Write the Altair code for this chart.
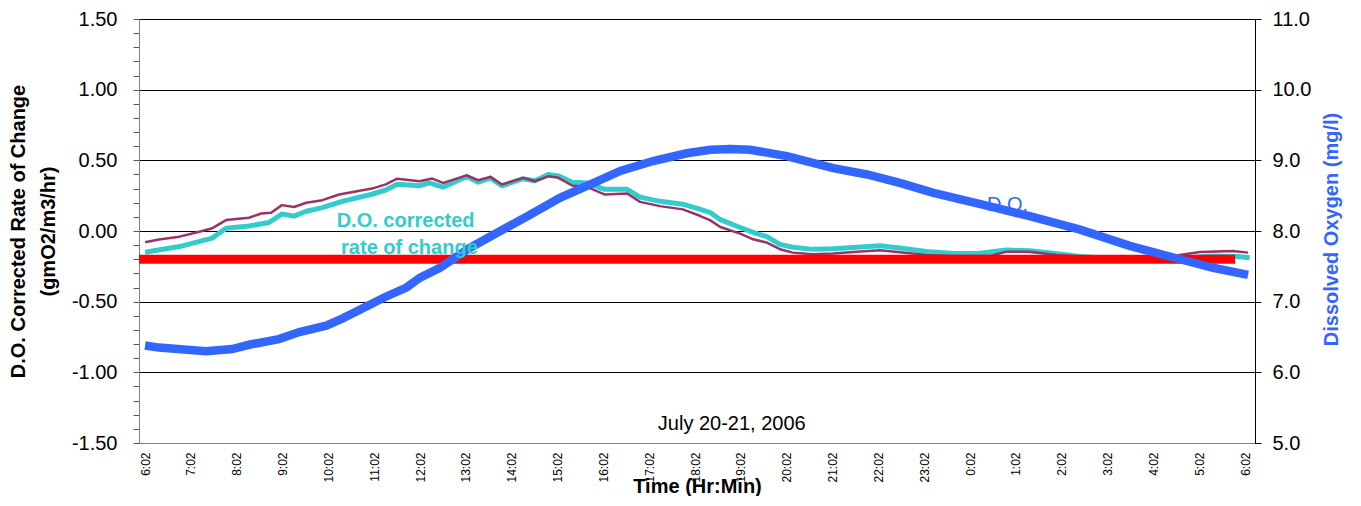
import json
import altair as alt
import pandas as pd

# Time axis: minutes elapsed after 6:02 on July 20, 2006
hour_labels = ["6:02", "7:02", "8:02", "9:02", "10:02", "11:02", "12:02", "13:02",
               "14:02", "15:02", "16:02", "17:02", "18:02", "19:02", "20:02", "21:02",
               "22:02", "23:02", "0:02", "1:02", "2:02", "3:02", "4:02", "5:02", "6:02"]

# D.O. corrected rate of change (cyan)
cyan_t = [0, 45, 88, 106, 136, 162, 179, 195, 211, 232, 258, 297, 315, 330, 359, 372,
          390, 421, 436, 452, 467, 495, 510, 528, 541, 559, 579, 596, 602, 631, 648,
          674, 704, 727, 740, 753, 779, 796, 814, 831, 848, 874, 901, 932, 962, 988,
          1023, 1058, 1089, 1106, 1128, 1158, 1194, 1224, 1276, 1329, 1364, 1398,
          1430, 1446]
cyan_v = [-0.15, -0.11, -0.05, 0.02, 0.035, 0.06, 0.12, 0.105, 0.14, 0.165, 0.21,
          0.26, 0.29, 0.33, 0.32, 0.34, 0.31, 0.385, 0.345, 0.375, 0.32, 0.37, 0.355,
          0.40, 0.39, 0.345, 0.34, 0.305, 0.295, 0.295, 0.24, 0.21, 0.19, 0.153, 0.13,
          0.08, 0.025, -0.01, -0.04, -0.095, -0.115, -0.13, -0.125, -0.115, -0.105,
          -0.12, -0.145, -0.16, -0.16, -0.148, -0.135, -0.14, -0.16, -0.18, -0.20,
          -0.20, -0.19, -0.176, -0.18, -0.19]

# Uncorrected rate of change (purple)
purple_t = [0, 18, 45, 71, 88, 106, 136, 152, 165, 179, 195, 211, 232, 254, 297, 315,
            330, 359, 376, 390, 421, 436, 452, 467, 495, 510, 528, 541, 559, 579, 602,
            631, 648, 674, 704, 727, 740, 753, 779, 796, 814, 831, 848, 874, 901, 932,
            962, 988, 1023, 1058, 1106, 1128, 1158, 1194, 1250, 1329, 1381, 1424, 1444]
purple_v = [-0.08, -0.06, -0.04, -0.005, 0.02, 0.077, 0.094, 0.124, 0.129, 0.183, 0.17,
            0.20, 0.218, 0.258, 0.30, 0.33, 0.37, 0.352, 0.371, 0.34, 0.394, 0.359,
            0.383, 0.329, 0.376, 0.352, 0.387, 0.376, 0.322, 0.31, 0.258, 0.265, 0.206,
            0.176, 0.153, 0.106, 0.075, 0.028, -0.019, -0.059, -0.082, -0.129, -0.153,
            -0.164, -0.16, -0.146, -0.136, -0.15, -0.169, -0.176, -0.176, -0.146,
            -0.146, -0.169, -0.19, -0.19, -0.148, -0.141, -0.153]

# Dissolved oxygen (mg/l), right axis (blue)
do_t = [0, 18, 80, 114, 136, 175, 202, 237, 258, 315, 342, 360, 386, 425, 465, 504,
        543, 583, 622, 665, 709, 740, 766, 792, 840, 901, 945, 988, 1032, 1106, 1158,
        1224, 1289, 1355, 1398, 1444]
do_v = [6.38, 6.35, 6.30, 6.33, 6.39, 6.47, 6.57, 6.66, 6.76, 7.07, 7.20, 7.34, 7.48,
        7.76, 8.00, 8.23, 8.47, 8.66, 8.85, 8.99, 9.10, 9.15, 9.16, 9.15, 9.06, 8.89,
        8.80, 8.68, 8.54, 8.35, 8.21, 8.02, 7.79, 7.60, 7.48, 7.38]

# Reference level (red)
ref_t = [-8, 1427]
ref_v = [-0.20, -0.20]

# Annotations (left-axis units)
series_text = ["D.O. corrected", "rate of change"]
series_text_t = [341, 346]
series_text_v = [0.028, -0.16]
date_text = ["July 20-21, 2006"]
date_text_t = [768]
date_text_v = [-1.408]
do_label_t = [1129]
do_label_v = [0.141]

FONT = "Liberation Sans, Arial, sans-serif"
CYAN = "#33CCCC"
PURPLE = "#993366"
RED = "#FF0000"
BLUE = "#3366FF"

x_scale = alt.Scale(domain=[-8, 1453], nice=False, zero=False)
x_axis = alt.Axis(
    values=list(range(0, 1441, 60)),
    labelExpr=json.dumps(hour_labels) + "[round(datum.value / 60)]",
    labelAngle=270, labelAlign="right", labelBaseline="middle",
    labelFontSize=12, labelPadding=9, labelFlush=False, labelOverlap=False,
    ticks=False, grid=False, domainColor="#808080",
    title="Time (Hr:Min)", titleFontSize=20, titleFontWeight="bold",
    titleY=49, titleBaseline="alphabetic", labelColor="black", titleColor="black",
)
X = alt.X("t:Q", scale=x_scale, axis=x_axis)

left_vals = [round(-1.5 + 0.1 * i, 1) for i in range(31)]
major_test = "abs(datum.value * 2 - round(datum.value * 2)) < 0.000001"
left_axis = alt.Axis(
    values=left_vals,
    labelExpr="(" + major_test + ") ? replace(format(datum.value, '.2f'), '\u2212', '-') : ''",
    tickSize=6, tickColor="#555555", domainColor="#808080",
    grid=True, gridColor="black", gridWidth=1,
    gridOpacity={"condition": {"test": major_test, "value": 1}, "value": 0},
    labelFontSize=20, labelPadding=16, labelOverlap=False, labelFlush=False,
    labelColor="black",
    title=["D.O. Corrected Rate of Change", "(gmO2/m3/hr)"],
    titleFontSize=20, titleFontWeight="bold", titleColor="black",
    titleAngle=270, titleX=-115, titleY=212, titleAlign="center",
    titleBaseline="alphabetic", titleLineHeight=30,
)
Y_left_scale = alt.Scale(domain=[-1.5, 1.5], nice=False, zero=False)
Y_left = alt.Y("v:Q", scale=Y_left_scale, axis=left_axis)

cyan_df = pd.DataFrame({"t": cyan_t, "v": cyan_v})
purple_df = pd.DataFrame({"t": purple_t, "v": purple_v})
ref_df = pd.DataFrame({"t": ref_t, "v": ref_v})
do_df = pd.DataFrame({"t": do_t, "do": do_v})
series_df = pd.DataFrame({"t": series_text_t, "v": series_text_v, "label": series_text})
date_df = pd.DataFrame({"t": date_text_t, "v": date_text_v, "label": date_text})
do_lab_df = pd.DataFrame({"t": do_label_t, "v": do_label_v, "label": ["D.O."]})

cyan_line = alt.Chart(cyan_df).mark_line(color=CYAN, strokeWidth=5, strokeJoin="round").encode(
    x=X, y=Y_left)
purple_line = alt.Chart(purple_df).mark_line(color=PURPLE, strokeWidth=2.5, strokeJoin="round").encode(
    x=X, y=Y_left)
ref_line = alt.Chart(ref_df).mark_line(color=RED, strokeWidth=9, strokeCap="butt").encode(
    x=X, y=Y_left)
do_label = alt.Chart(do_lab_df).mark_text(
    color=BLUE, fontSize=20, font=FONT, align="center", baseline="alphabetic").encode(
    x=X, y=Y_left, text="label:N")

left = alt.layer(cyan_line, purple_line, ref_line, do_label)

right = alt.Chart(do_df).mark_line(color=BLUE, strokeWidth=8.5, strokeCap="butt").encode(
    x=X,
    y=alt.Y("do:Q", scale=alt.Scale(domain=[5, 11], nice=False, zero=False),
            axis=alt.Axis(orient="right", values=[5, 6, 7, 8, 9, 10, 11], format=".1f",
                          tickSize=6, tickColor="black", domainColor="black", grid=False,
                          labelFontSize=20, labelPadding=11, labelColor="black",
                          labelFlush=False,
                          title="Dissolved Oxygen (mg/l)", titleColor=BLUE,
                          titleFontSize=20, titleFontWeight="bold", titleAngle=270,
                          titleX=82, titleY=210, titleAlign="center",
                          titleBaseline="alphabetic")),
)

Y_ann = alt.Y("v:Q", scale=alt.Scale(domain=[-1.5, 1.5], nice=False, zero=False), axis=None)
series_lab = alt.Chart(series_df).mark_text(
    fontSize=20, font=FONT, fontWeight="bold", color=CYAN, align="center",
    baseline="alphabetic").encode(x=X, y=Y_ann, text="label:N")
date_lab = alt.Chart(date_df).mark_text(
    fontSize=20, font=FONT, color="black", align="center",
    baseline="alphabetic").encode(x=X, y=Y_ann, text="label:N")
ann = alt.layer(series_lab, date_lab)

chart = alt.layer(left, right, ann).resolve_scale(y="independent").properties(
    width=1116, height=424,
    padding={"left": 131, "top": 11, "right": 95, "bottom": 53},
    autosize=alt.AutoSizeParams(type="none"),
).configure_view(stroke=None).configure(font=FONT)

chart.save("out.html", embed_options={"renderer": "svg", "actions": False})
